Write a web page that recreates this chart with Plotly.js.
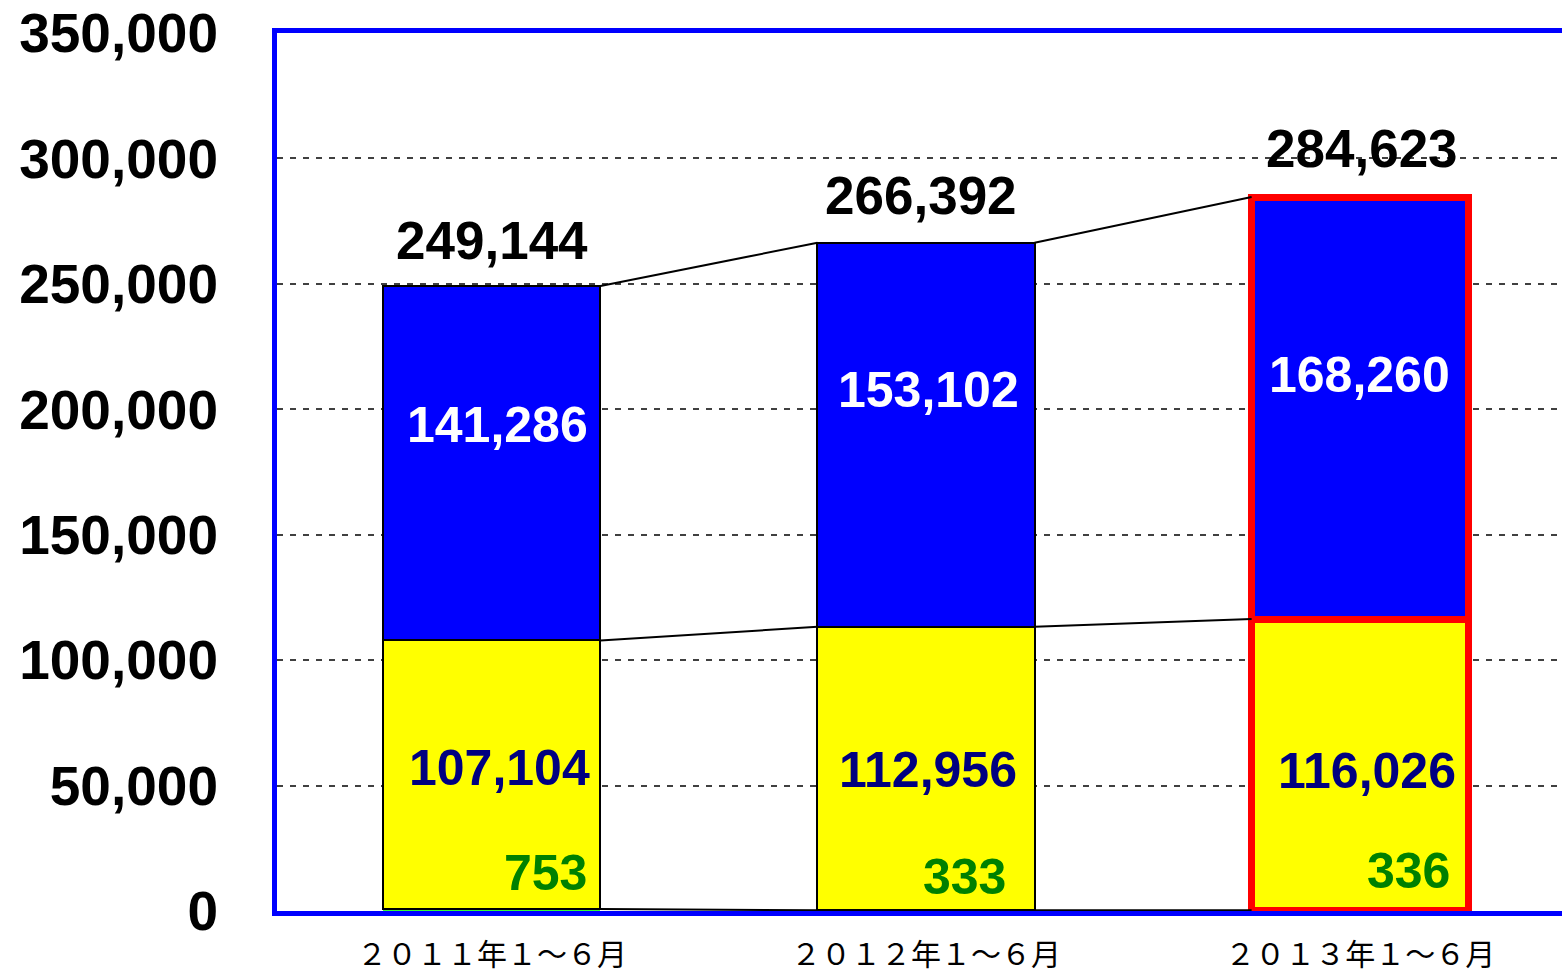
<!DOCTYPE html>
<html>
<head>
<meta charset="utf-8">
<script src="https://cdn.plot.ly/plotly-3.0.1.min.js"></script>
<style>html,body{margin:0;padding:0;background:#fff;}#chart{width:1562px;height:978px;}</style>
</head>
<body>
<div id="chart"></div>
<script>
// ---- data ----
const categories = ['２０１１年１～６月', '２０１２年１～６月', '２０１３年１～６月'];
const greenValues = [753, 333, 336];
const yellowValues = [107104, 112956, 116026];
const blueValues = [141286, 153102, 168260];
const totals = [249144, 266392, 284623];
const yTickValues = [0, 50000, 100000, 150000, 200000, 250000, 300000, 350000];

// ---- styling ----
const BAR_W = 0.5;
const NUM_FONT = 'Liberation Sans, Arial, sans-serif';
const idx = categories.map((c, i) => i);
const fmt = v => v.toLocaleString('en-US');
const edgeColors = ['#000000', '#000000', '#FF0000'];
const edgeWidths = [2, 2, 7];

const traces = [
  {type: 'bar', x: idx, y: greenValues, width: BAR_W,
   marker: {color: '#33FF33', line: {color: edgeColors, width: [0, 0, 7]}}, hoverinfo: 'skip'},
  {type: 'bar', x: idx, y: yellowValues, width: BAR_W,
   marker: {color: '#FFFF00', line: {color: edgeColors, width: edgeWidths}}, hoverinfo: 'skip'},
  {type: 'bar', x: idx, y: blueValues, width: BAR_W,
   marker: {color: '#0000FF', line: {color: edgeColors, width: edgeWidths}}, hoverinfo: 'skip'}
];

// cumulative levels for connector lines
const cumGreen = greenValues.slice();
const cumYellow = greenValues.map((g, i) => g + yellowValues[i]);
const cumBlue = cumYellow.map((c, i) => c + blueValues[i]);
[cumGreen, cumYellow, cumBlue].forEach(level => {
  const xs = [], ys = [];
  for (let i = 0; i < idx.length - 1; i++) {
    xs.push(idx[i] + BAR_W / 2, idx[i + 1] - BAR_W / 2, null);
    ys.push(level[i], level[i + 1], null);
  }
  traces.push({type: 'scatter', mode: 'lines', x: xs, y: ys,
    line: {color: '#000000', width: 2}, hoverinfo: 'skip'});
});

// ---- labels ----
const annotations = [];
const totalShift = {x: [0, -5, 2], y: [46, 47, 49]};
const blueShift = {x: [6, 2, -1], y: [38, 45, 33]};
const yellowShift = {x: [8, 2, 7], y: [7, -2, -6]};
const greenShift = {x: [54, 38, 48], y: [38, 34, 40]};
idx.forEach(i => {
  annotations.push({x: i, y: cumBlue[i], xref: 'x', yref: 'y', text: fmt(totals[i]),
    showarrow: false, xshift: totalShift.x[i], yshift: totalShift.y[i],
    font: {family: NUM_FONT, size: 53, color: '#000000', weight: 'bold'}});
  annotations.push({x: i, y: cumYellow[i] + blueValues[i] / 2, xref: 'x', yref: 'y', text: fmt(blueValues[i]),
    showarrow: false, xshift: blueShift.x[i], yshift: blueShift.y[i],
    font: {family: NUM_FONT, size: 50, color: '#FFFFFF', weight: 'bold'}});
  annotations.push({x: i, y: cumGreen[i] + yellowValues[i] / 2, xref: 'x', yref: 'y', text: fmt(yellowValues[i]),
    showarrow: false, xshift: yellowShift.x[i], yshift: yellowShift.y[i],
    font: {family: NUM_FONT, size: 50, color: '#000080', weight: 'bold'}});
  annotations.push({x: i, y: 0, xref: 'x', yref: 'y', text: fmt(greenValues[i]),
    showarrow: false, xshift: greenShift.x[i], yshift: greenShift.y[i],
    font: {family: NUM_FONT, size: 50, color: '#008000', weight: 'bold'}});
});

const layout = {
  width: 1562, height: 978,
  margin: {l: 277, r: 0, t: 33, b: 67, pad: 0},
  paper_bgcolor: '#FFFFFF', plot_bgcolor: '#FFFFFF',
  barmode: 'stack', bargap: 0, showlegend: false,
  xaxis: {
    range: [-0.495, 2.465], tickvals: idx, ticktext: categories,
    showgrid: false, zeroline: false, ticks: '',
    showline: true, linecolor: '#0000FF', linewidth: 5, mirror: true,
    ticklabelstandoff: 13,
    tickfont: {family: 'Noto Sans CJK JP, sans-serif', size: 30, color: '#000000'}
  },
  yaxis: {
    range: [0, 350000], tickvals: yTickValues, tickformat: ',d',
    showgrid: true, gridcolor: '#404040', gridwidth: 2, griddash: '6px,7px',
    zeroline: false, ticks: '',
    showline: true, linecolor: '#0000FF', linewidth: 5,
    ticklabelstandoff: 43,
    tickfont: {family: NUM_FONT, size: 55, color: '#000000', weight: 'bold'}
  },
  annotations: annotations
};

Plotly.newPlot('chart', traces, layout, {displayModeBar: false, staticPlot: true});
</script>
</body>
</html>
